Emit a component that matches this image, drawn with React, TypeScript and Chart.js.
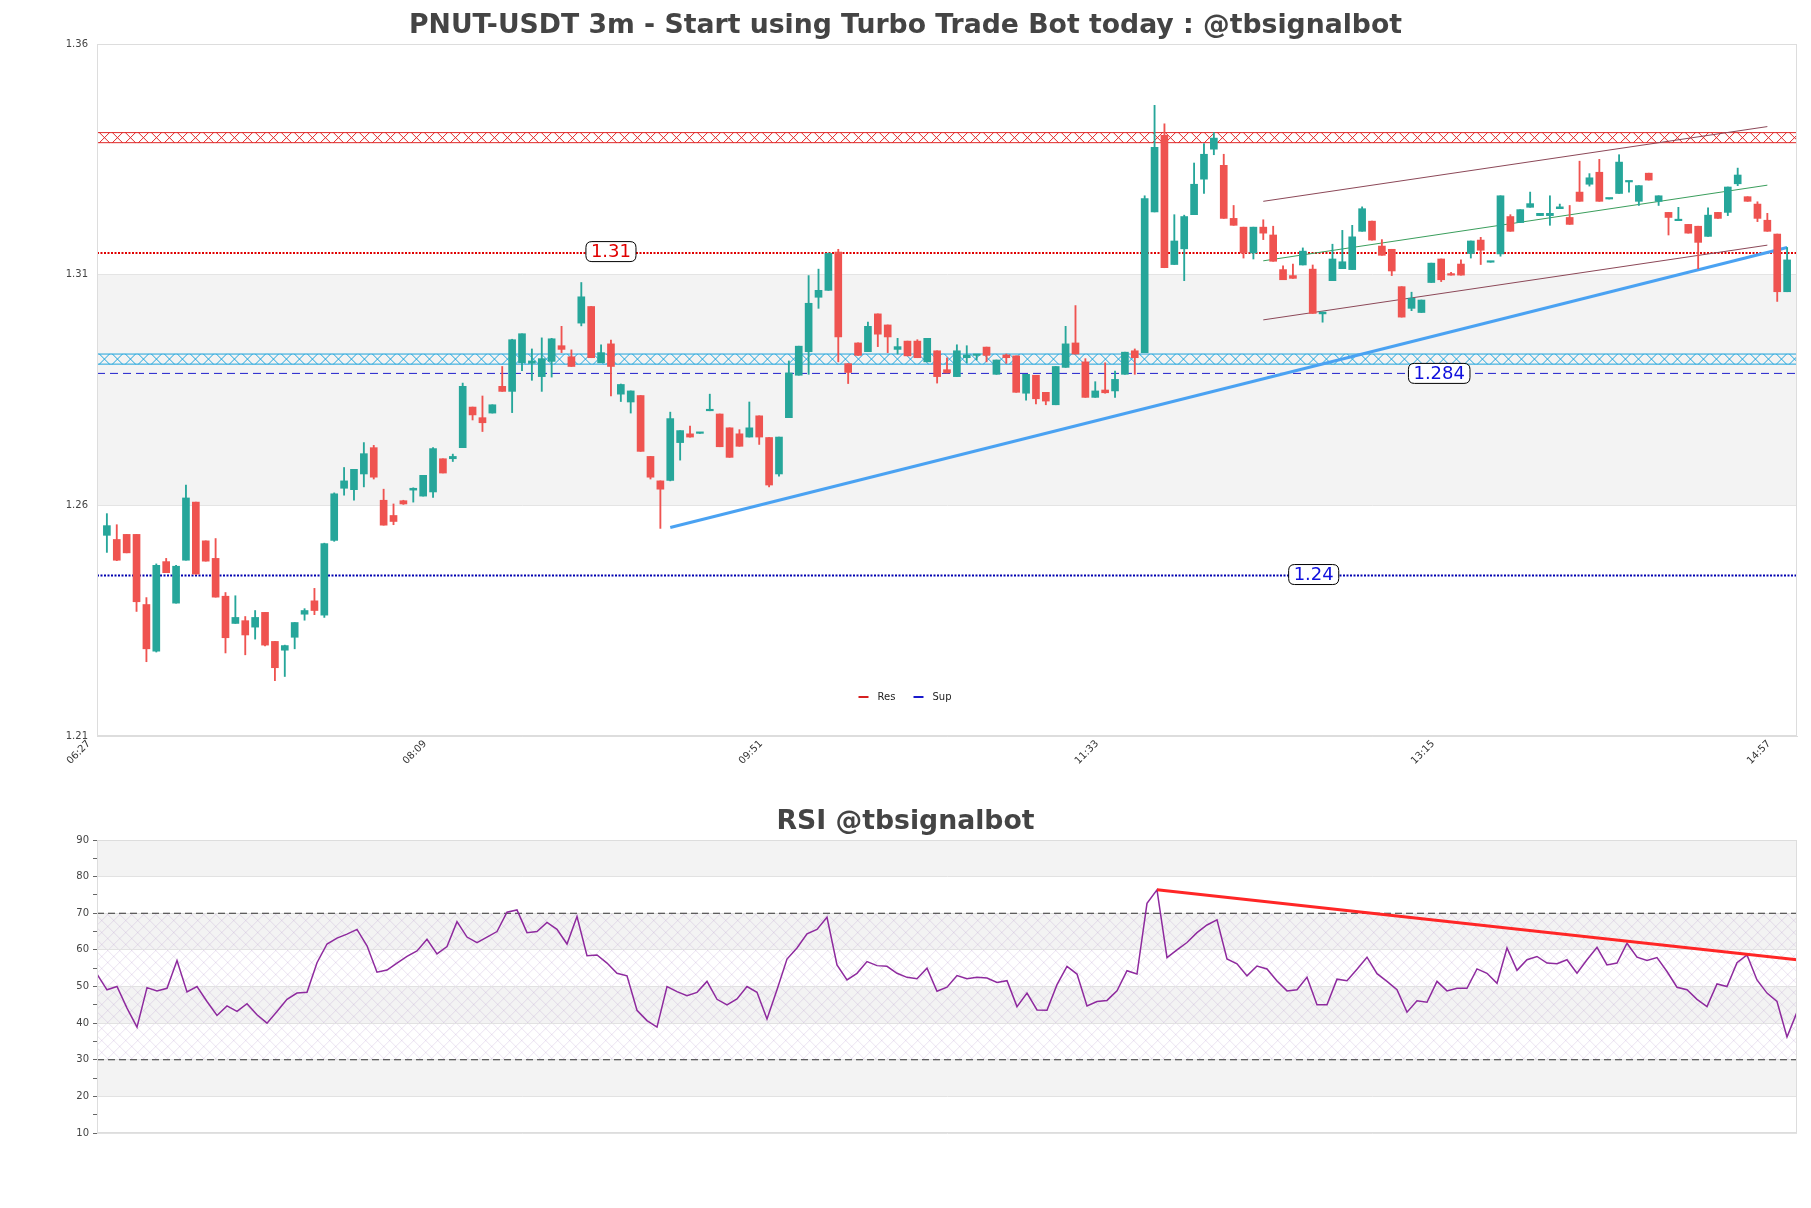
import React, { useEffect, useRef } from "react";
import { Chart, registerables } from "chart.js";

Chart.register(...registerables);
Chart.defaults.font.family = "'DejaVu Sans', sans-serif";

// ---------------- DATA ----------------
const titleMain = "PNUT-USDT 3m - Start using Turbo Trade Bot today : @tbsignalbot";
const titleRsi = "RSI @tbsignalbot";

const xTickIndex = [-1, 33, 67, 101, 135, 169];
const xTickLabels = ["06:27", "08:09", "09:51", "11:33", "13:15", "14:57"];
const priceTicks = [1.21, 1.26, 1.31, 1.36];
const rsiTicks = [10, 15, 20, 25, 30, 35, 40, 45, 50, 55, 60, 65, 70, 75, 80, 85, 90];

const opens = [
  1.2535, 1.2526, 1.2537, 1.2537, 1.2385, 1.2284, 1.2478, 1.2388, 1.2481, 1.2607,
  1.2523, 1.2485, 1.2403, 1.2344, 1.2350, 1.2336, 1.2368, 1.2305, 1.2286, 1.2314,
  1.2364, 1.2393, 1.2362, 1.2524, 1.2637, 1.2634, 1.2668, 1.2725, 1.2611, 1.2578,
  1.2610, 1.2633, 1.2620, 1.2629, 1.2701, 1.2701, 1.2725, 1.2813, 1.2790, 1.2800,
  1.2858, 1.2847, 1.2909, 1.2908, 1.2879, 1.2912, 1.2946, 1.2922, 1.2995, 1.3031,
  1.2909, 1.2950, 1.2841, 1.2824, 1.2838, 1.2706, 1.2653, 1.2654, 1.2736, 1.2755,
  1.2756, 1.2805, 1.2798, 1.2768, 1.2755, 1.2748, 1.2794, 1.2747, 1.2668, 1.2790,
  1.2882, 1.2933, 1.3051, 1.3066, 1.3149, 1.2907, 1.2952, 1.2933, 1.3015, 1.2991,
  1.2938, 1.2956, 1.2956, 1.2911, 1.2935, 1.2894, 1.2879, 1.2920, 1.2925, 1.2943,
  1.2884, 1.2926, 1.2924, 1.2843, 1.2882, 1.2845, 1.2818, 1.2899, 1.2952, 1.2911,
  1.2834, 1.2850, 1.2848, 1.2884, 1.2935, 1.2931, 1.3236, 1.3402, 1.3122, 1.3156,
  1.3230, 1.3307, 1.3372, 1.3337, 1.3222, 1.3203, 1.3147, 1.3203, 1.3186, 1.3111,
  1.3098, 1.3121, 1.3112, 1.3015, 1.3087, 1.3113, 1.3111, 1.3194, 1.3216, 1.3162,
  1.3155, 1.3074, 1.3027, 1.3018, 1.3083, 1.3134, 1.3101, 1.3123, 1.3146, 1.3175,
  1.3127, 1.3145, 1.3226, 1.3213, 1.3246, 1.3228, 1.3228, 1.3243, 1.3224, 1.3279,
  1.3296, 1.3322, 1.3264, 1.3276, 1.3301, 1.3259, 1.3320, 1.3259, 1.3235, 1.3217,
  1.3209, 1.3205, 1.3183, 1.3235, 1.3235, 1.3297, 1.3269, 1.3253, 1.3218, 1.3188,
  1.3063,
];
const highs = [
  1.2582, 1.2558, 1.2537, 1.2537, 1.2400, 1.2473, 1.2485, 1.2470, 1.2644, 1.2607,
  1.2523, 1.2528, 1.2411, 1.2404, 1.2359, 1.2372, 1.2368, 1.2305, 1.2297, 1.2346,
  1.2376, 1.2420, 1.2518, 1.2627, 1.2682, 1.2678, 1.2736, 1.2730, 1.2635, 1.2603,
  1.2611, 1.2638, 1.2665, 1.2725, 1.2701, 1.2711, 1.2865, 1.2813, 1.2837, 1.2818,
  1.2901, 1.2960, 1.2972, 1.2939, 1.2963, 1.2962, 1.2988, 1.2937, 1.3083, 1.3031,
  1.2948, 1.2958, 1.2863, 1.2848, 1.2838, 1.2706, 1.2653, 1.2802, 1.2762, 1.2772,
  1.2757, 1.2841, 1.2798, 1.2768, 1.2764, 1.2824, 1.2794, 1.2747, 1.2748, 1.2913,
  1.2945, 1.3098, 1.3112, 1.3147, 1.3155, 1.2907, 1.2952, 1.2997, 1.3015, 1.2991,
  1.2962, 1.2956, 1.2959, 1.2962, 1.2935, 1.2920, 1.2948, 1.2946, 1.2926, 1.2943,
  1.2915, 1.2928, 1.2924, 1.2884, 1.2882, 1.2845, 1.2901, 1.2988, 1.3033, 1.2918,
  1.2868, 1.2909, 1.2891, 1.2932, 1.2939, 1.3271, 1.3467, 1.3427, 1.3230, 1.3229,
  1.3342, 1.3384, 1.3408, 1.3361, 1.3250, 1.3203, 1.3203, 1.3219, 1.3205, 1.3119,
  1.3123, 1.3158, 1.3121, 1.3019, 1.3166, 1.3196, 1.3207, 1.3247, 1.3216, 1.3176,
  1.3155, 1.3074, 1.3062, 1.3045, 1.3125, 1.3134, 1.3105, 1.3132, 1.3173, 1.3181,
  1.3128, 1.3271, 1.3230, 1.3241, 1.3279, 1.3233, 1.3271, 1.3253, 1.3250, 1.3346,
  1.3319, 1.3350, 1.3265, 1.3360, 1.3302, 1.3293, 1.3320, 1.3271, 1.3235, 1.3246,
  1.3209, 1.3205, 1.3245, 1.3235, 1.3290, 1.3331, 1.3269, 1.3258, 1.3233, 1.3188,
  1.3159,
];
const lows = [
  1.2498, 1.2480, 1.2497, 1.2370, 1.2261, 1.2282, 1.2454, 1.2388, 1.2481, 1.2451,
  1.2479, 1.2401, 1.2280, 1.2344, 1.2276, 1.2310, 1.2295, 1.2220, 1.2229, 1.2289,
  1.2351, 1.2363, 1.2357, 1.2522, 1.2622, 1.2611, 1.2640, 1.2657, 1.2557, 1.2558,
  1.2602, 1.2607, 1.2620, 1.2617, 1.2670, 1.2695, 1.2725, 1.2785, 1.2760, 1.2800,
  1.2847, 1.2801, 1.2892, 1.2871, 1.2847, 1.2878, 1.2931, 1.2901, 1.2989, 1.2920,
  1.2909, 1.2837, 1.2825, 1.2800, 1.2717, 1.2657, 1.2550, 1.2653, 1.2698, 1.2748,
  1.2756, 1.2805, 1.2727, 1.2704, 1.2728, 1.2748, 1.2732, 1.2640, 1.2663, 1.2790,
  1.2882, 1.2884, 1.3027, 1.3066, 1.2911, 1.2864, 1.2925, 1.2933, 1.2944, 1.2931,
  1.2928, 1.2924, 1.2920, 1.2911, 1.2865, 1.2887, 1.2879, 1.2909, 1.2915, 1.2911,
  1.2884, 1.2908, 1.2845, 1.2828, 1.2820, 1.2818, 1.2818, 1.2899, 1.2928, 1.2834,
  1.2834, 1.2843, 1.2834, 1.2884, 1.2884, 1.2931, 1.3236, 1.3115, 1.3122, 1.3087,
  1.3230, 1.3276, 1.3360, 1.3222, 1.3207, 1.3136, 1.3134, 1.3176, 1.3129, 1.3089,
  1.3092, 1.3121, 1.3016, 1.2997, 1.3087, 1.3113, 1.3111, 1.3194, 1.3175, 1.3142,
  1.3098, 1.3008, 1.3022, 1.3018, 1.3083, 1.3085, 1.3099, 1.3099, 1.3136, 1.3122,
  1.3127, 1.3140, 1.3194, 1.3213, 1.3246, 1.3228, 1.3207, 1.3243, 1.3209, 1.3259,
  1.3292, 1.3259, 1.3264, 1.3276, 1.3279, 1.3250, 1.3305, 1.3250, 1.3186, 1.3217,
  1.3190, 1.3113, 1.3183, 1.3222, 1.3228, 1.3293, 1.3259, 1.3215, 1.3194, 1.3042,
  1.3063,
];
const closes = [
  1.2556, 1.2481, 1.2497, 1.2391, 1.2289, 1.2470, 1.2454, 1.2468, 1.2616, 1.2451,
  1.2479, 1.2401, 1.2313, 1.2357, 1.2319, 1.2357, 1.2297, 1.2248, 1.2296, 1.2346,
  1.2372, 1.2372, 1.2517, 1.2625, 1.2653, 1.2678, 1.2712, 1.2661, 1.2557, 1.2565,
  1.2603, 1.2637, 1.2665, 1.2723, 1.2670, 1.2706, 1.2858, 1.2796, 1.2779, 1.2818,
  1.2847, 1.2959, 1.2972, 1.2913, 1.2918, 1.2961, 1.2938, 1.2901, 1.3052, 1.2920,
  1.2931, 1.2901, 1.2862, 1.2848, 1.2717, 1.2661, 1.2635, 1.2788, 1.2762, 1.2748,
  1.2757, 1.2806, 1.2727, 1.2704, 1.2728, 1.2768, 1.2748, 1.2644, 1.2748, 1.2887,
  1.2945, 1.3038, 1.3066, 1.3146, 1.2965, 1.2888, 1.2925, 1.2988, 1.2971, 1.2965,
  1.2944, 1.2924, 1.2920, 1.2962, 1.2879, 1.2887, 1.2935, 1.2926, 1.2926, 1.2925,
  1.2915, 1.2920, 1.2845, 1.2884, 1.2831, 1.2826, 1.2901, 1.2950, 1.2928, 1.2834,
  1.2848, 1.2844, 1.2873, 1.2932, 1.2920, 1.3265, 1.3376, 1.3115, 1.3173, 1.3226,
  1.3296, 1.3361, 1.3396, 1.3222, 1.3207, 1.3147, 1.3203, 1.3190, 1.3129, 1.3089,
  1.3092, 1.3151, 1.3016, 1.3019, 1.3134, 1.3128, 1.3182, 1.3243, 1.3175, 1.3142,
  1.3108, 1.3008, 1.3049, 1.3045, 1.3125, 1.3089, 1.3099, 1.3099, 1.3173, 1.3153,
  1.3128, 1.3271, 1.3194, 1.3241, 1.3254, 1.3233, 1.3233, 1.3247, 1.3209, 1.3259,
  1.3310, 1.3259, 1.3265, 1.3344, 1.3302, 1.3293, 1.3305, 1.3271, 1.3224, 1.3218,
  1.3190, 1.3170, 1.3229, 1.3222, 1.3290, 1.3316, 1.3259, 1.3222, 1.3194, 1.3063,
  1.3132,
];

const rsiValues = [
  53.4, 49.1, 50.0, 44.1, 38.9, 49.7, 48.8, 49.5, 57.1, 48.5,
  50.0, 45.9, 42.1, 44.7, 43.2, 45.3, 42.3, 40.0, 43.2, 46.5,
  48.2, 48.4, 56.5, 61.6, 63.2, 64.3, 65.6, 61.1, 53.9, 54.5,
  56.4, 58.2, 59.7, 62.9, 58.9, 60.9, 67.7, 63.5, 62.0, 63.5,
  65.0, 70.3, 70.9, 64.7, 65.0, 67.5, 65.6, 61.6, 69.1, 58.4,
  58.6, 56.4, 53.6, 52.9, 43.5, 40.7, 38.9, 50.0, 48.6, 47.5,
  48.4, 51.4, 46.5, 45.0, 46.6, 50.0, 48.4, 41.1, 49.1, 57.5,
  60.5, 64.4, 65.6, 68.9, 55.9, 51.8, 53.6, 56.8, 55.7, 55.5,
  53.6, 52.5, 52.1, 55.0, 48.7, 49.8, 53.0, 52.1, 52.5, 52.3,
  51.1, 51.6, 44.5, 48.2, 43.6, 43.5, 50.5, 55.5, 53.4, 44.7,
  45.9, 46.2, 48.8, 54.3, 53.4, 72.7, 76.4, 57.9, 60.0, 62.0,
  64.7, 66.8, 68.2, 57.5, 56.2, 52.9, 55.6, 54.8, 51.5, 48.8,
  49.1, 52.5, 45.0, 45.0, 52.0, 51.6, 54.7, 58.0, 53.5, 51.4,
  49.1, 43.0, 46.1, 45.7, 51.4, 48.8, 49.5, 49.5, 54.8, 53.6,
  50.9, 60.5, 54.4, 57.3, 58.2, 56.4, 56.2, 57.3, 53.6, 57.3,
  60.7, 55.9, 56.4, 61.8, 58.0, 57.1, 57.9, 54.1, 49.8, 49.1,
  46.5, 44.5, 50.7, 50.0, 56.5, 58.6, 51.8, 48.2, 45.9, 36.2,
  43.0,
];

// levels and zones (price)
const resLevel = [1.3147];
const supDashedLevel = [1.2886];
const supDottedLevel = [1.2448];
const resZone = [1.3385, 1.3409];
const supZone = [1.2905, 1.2929];
const neutralBand = [1.26, 1.31];
// trend lines [index, price]
const priceTrend = [[57, 1.2552], [170, 1.3159]];
const channelUpper = [[117, 1.3259], [168, 1.3421]];
const channelMid = [[117, 1.3130], [168, 1.3294]];
const channelLower = [[117, 1.3002], [168, 1.3164]];
// tags [index, price, text]
const tagRes = [51, 1.3150, "1.31"];
const tagSupDashed = [134.8, 1.2886, "1.284"];
const tagSupDotted = [122.1, 1.2450, "1.24"];
// RSI
const rsiTrend = [[106, 76.4], [170, 57.3]];
const rsiLevels = [70, 30];
const rsiGrayBands = [[80, 90], [60, 70], [40, 50], [20, 30]];
const rsiHatchZone = [30, 70];

// ---------------- STYLE ----------------
const GREEN = "#26a69a";
const RED = "#ef5350";
const W = 1811;
const MAIN_H = 790;
const RSI_TOP = 790;
const RSI_H = 418;
const SIDE_PAD = 14;
const AXIS_W = 97 - SIDE_PAD;
const TITLE_SIZE = 26.7;

function drawXBand(ctx: CanvasRenderingContext2D, left: number, right: number, yTop: number, yBot: number, color: string) {
  const h = yBot - yTop;
  ctx.save();
  ctx.beginPath();
  ctx.rect(left, yTop, right - left, h);
  ctx.clip();
  ctx.strokeStyle = color;
  ctx.lineWidth = 1;
  ctx.beginPath();
  const step = 13;
  for (let x0 = left - h; x0 < right + h; x0 += step) {
    ctx.moveTo(x0, yBot);
    ctx.lineTo(x0 + h, yTop);
    ctx.moveTo(x0, yTop);
    ctx.lineTo(x0 + h, yBot);
  }
  ctx.stroke();
  ctx.restore();
  ctx.save();
  ctx.strokeStyle = color;
  ctx.lineWidth = 1;
  ctx.beginPath();
  ctx.moveTo(left, yTop + 0.5);
  ctx.lineTo(right, yTop + 0.5);
  ctx.moveTo(left, yBot - 0.5);
  ctx.lineTo(right, yBot - 0.5);
  ctx.stroke();
  ctx.restore();
}

function drawTag(ctx: CanvasRenderingContext2D, px: number, py: number, text: string, color: string) {
  ctx.save();
  ctx.font = "18px 'DejaVu Sans'";
  const tw = ctx.measureText(text).width;
  const w = tw + 10;
  const h = 20;
  const x = px - w / 2;
  const y = py - h / 2;
  const r = 6;
  ctx.beginPath();
  ctx.moveTo(x + r, y);
  ctx.lineTo(x + w - r, y);
  ctx.quadraticCurveTo(x + w, y, x + w, y + r);
  ctx.lineTo(x + w, y + h - r);
  ctx.quadraticCurveTo(x + w, y + h, x + w - r, y + h);
  ctx.lineTo(x + r, y + h);
  ctx.quadraticCurveTo(x, y + h, x, y + h - r);
  ctx.lineTo(x, y + r);
  ctx.quadraticCurveTo(x, y, x + r, y);
  ctx.closePath();
  ctx.fillStyle = "#ffffff";
  ctx.fill();
  ctx.strokeStyle = "#000000";
  ctx.lineWidth = 1;
  ctx.stroke();
  ctx.fillStyle = color;
  ctx.textAlign = "center";
  ctx.textBaseline = "middle";
  ctx.fillText(text, px, py + 1);
  ctx.restore();
}

const mainPlugin = {
  id: "mainDeco",
  beforeDraw(chart: any) {
    const { ctx, chartArea: a, scales } = chart;
    const y = scales.y;
    ctx.save();
    ctx.fillStyle = "#ffffff";
    ctx.fillRect(0, 0, chart.width, chart.height);
    const yt = y.getPixelForValue(neutralBand[1]);
    const yb = y.getPixelForValue(neutralBand[0]);
    ctx.fillStyle = "#f3f3f3";
    ctx.fillRect(a.left, yt, a.right - a.left, yb - yt);
    ctx.restore();
  },
  beforeDatasetsDraw(chart: any) {
    const { ctx, chartArea: a, scales } = chart;
    const y = scales.y;
    drawXBand(ctx, a.left, a.right, y.getPixelForValue(resZone[1]), y.getPixelForValue(resZone[0]), "#e02828");
    drawXBand(ctx, a.left, a.right, y.getPixelForValue(supZone[1]), y.getPixelForValue(supZone[0]), "#1ea4dc");
  },
  afterDatasetsDraw(chart: any) {
    const { ctx, chartArea: a, scales } = chart;
    const x = scales.x;
    const y = scales.y;
    drawTag(ctx, x.getPixelForValue(tagRes[0] as number), y.getPixelForValue(tagRes[1] as number), tagRes[2] as string, "#e00000");
    drawTag(ctx, x.getPixelForValue(tagSupDashed[0] as number), y.getPixelForValue(tagSupDashed[1] as number), tagSupDashed[2] as string, "#1010dd");
    drawTag(ctx, x.getPixelForValue(tagSupDotted[0] as number), y.getPixelForValue(tagSupDotted[1] as number), tagSupDotted[2] as string, "#1010dd");
    // frame
    ctx.save();
    ctx.strokeStyle = "#dddddd";
    ctx.lineWidth = 1;
    ctx.strokeRect(a.left + 0.5, a.top + 0.5, a.right - a.left - 1, a.bottom - a.top - 1);
    // legend
    const cx = chart.width / 2;
    const ly = a.bottom - 39;
    ctx.lineWidth = 2;
    ctx.strokeStyle = "#d62020";
    ctx.beginPath();
    ctx.moveTo(cx - 47, ly);
    ctx.lineTo(cx - 37, ly);
    ctx.stroke();
    ctx.strokeStyle = "#1a1acc";
    ctx.beginPath();
    ctx.moveTo(cx + 8, ly);
    ctx.lineTo(cx + 18, ly);
    ctx.stroke();
    ctx.fillStyle = "#222222";
    ctx.font = "10px 'DejaVu Sans'";
    ctx.textAlign = "left";
    ctx.textBaseline = "middle";
    ctx.fillText("Res", cx - 28, ly);
    ctx.fillText("Sup", cx + 27, ly);
    ctx.restore();
  },
};

const rsiPlugin = {
  id: "rsiDeco",
  beforeDraw(chart: any) {
    const { ctx, chartArea: a, scales } = chart;
    const y = scales.y;
    ctx.save();
    ctx.fillStyle = "#ffffff";
    ctx.fillRect(0, 0, chart.width, chart.height);
    ctx.fillStyle = "#f3f3f3";
    for (const [lo, hi] of rsiGrayBands) {
      const t = y.getPixelForValue(hi);
      const b = y.getPixelForValue(lo);
      ctx.fillRect(a.left, t, a.right - a.left, b - t);
    }
    const ht = y.getPixelForValue(rsiHatchZone[1]);
    const hb = y.getPixelForValue(rsiHatchZone[0]);
    ctx.beginPath();
    ctx.rect(a.left, ht, a.right - a.left, hb - ht);
    ctx.clip();
    ctx.strokeStyle = "rgba(185,150,205,0.45)";
    ctx.lineWidth = 0.6;
    ctx.beginPath();
    const H = hb - ht;
    const s = 12;
    for (let x0 = a.left - H; x0 < a.right + H; x0 += s) {
      ctx.moveTo(x0, hb);
      ctx.lineTo(x0 + H, ht);
      ctx.moveTo(x0, ht);
      ctx.lineTo(x0 + H, hb);
    }
    ctx.stroke();
    ctx.restore();
  },
  afterDatasetsDraw(chart: any) {
    const { ctx, chartArea: a } = chart;
    ctx.save();
    ctx.strokeStyle = "#dddddd";
    ctx.lineWidth = 1;
    ctx.strokeRect(a.left + 0.5, a.top + 0.5, a.right - a.left - 1, a.bottom - a.top - 1);
    ctx.restore();
  },
};

function segment(points: number[][]) {
  return points.map(([x, y]) => ({ x, y }));
}

function mainConfig(): any {
  const bodies = opens.map((o, i) => ({ x: i, y: [o, closes[i]] }));
  const wicks = opens.map((o, i) => ({
    x: i,
    y: [Math.min(lows[i], o, closes[i]), Math.max(highs[i], o, closes[i])],
  }));
  const colors = opens.map((o, i) => (closes[i] >= o ? GREEN : RED));
  const xMin = -1;
  const xMax = 171;
  const line = (label: string, pts: any[], color: string, width: number, dash: number[], order: number) => ({
    type: "line",
    label,
    data: pts,
    borderColor: color,
    backgroundColor: color,
    borderWidth: width,
    borderDash: dash,
    pointRadius: 0,
    fill: false,
    tension: 0,
    order,
  });
  return {
    type: "bar",
    data: {
      datasets: [
        { type: "bar", label: "body", data: bodies, backgroundColor: colors, borderWidth: 0, barThickness: 7, grouped: false, minBarLength: 1.5, order: 0 },
        { type: "bar", label: "wick", data: wicks, backgroundColor: colors, borderWidth: 0, barThickness: 1.2, grouped: false, order: 1 },
        line("Res", [{ x: xMin, y: resLevel[0] }, { x: xMax, y: resLevel[0] }], "#e00000", 2, [2, 1.5], 3),
        line("Sup", [{ x: xMin, y: supDottedLevel[0] }, { x: xMax, y: supDottedLevel[0] }], "#0000b0", 2, [2, 1.5], 3),
        line("Sup level", [{ x: xMin, y: supDashedLevel[0] }, { x: xMax, y: supDashedLevel[0] }], "#2020cc", 1, [8, 5], 3),
        line("Trend", segment(priceTrend), "#4aa2f2", 3, [], 2),
        line("Channel upper", segment(channelUpper), "#8c4858", 1, [], 2),
        line("Channel mid", segment(channelMid), "#3a9e5c", 1, [], 2),
        line("Channel lower", segment(channelLower), "#8c4858", 1, [], 2),
      ],
    },
    options: {
      responsive: false,
      animation: false,
      devicePixelRatio: 1,
      layout: { padding: { left: SIDE_PAD, right: SIDE_PAD, top: 0, bottom: 0 } },
      plugins: {
        legend: { display: false },
        tooltip: { enabled: false },
        title: {
          display: true,
          text: titleMain,
          color: "#444444",
          font: { size: TITLE_SIZE, weight: "bold", family: "'DejaVu Sans', sans-serif" },
          padding: { top: 10, bottom: 44 - 10 - TITLE_SIZE * 1.2 },
        },
      },
      scales: {
        x: {
          type: "linear",
          min: xMin,
          max: xMax,
          offset: false,
          grid: { display: false, drawTicks: false },
          border: { display: true, color: "#dddddd" },
          afterBuildTicks: (s: any) => {
            s.ticks = xTickIndex.map((v) => ({ value: v }));
          },
          afterFit: (s: any) => {
            s.height = MAIN_H - 736;
          },
          ticks: {
            autoSkip: false,
            minRotation: 45,
            maxRotation: 45,
            padding: 2,
            labelOffset: -8,
            color: "#333333",
            font: { size: 10 },
            callback: (v: any) => {
              const k = xTickIndex.indexOf(Number(v));
              return k >= 0 ? xTickLabels[k] : "";
            },
          },
        },
        y: {
          type: "linear",
          min: priceTicks[0],
          max: priceTicks[priceTicks.length - 1],
          grid: { color: "#e4e4e4", drawTicks: false },
          border: { display: true, color: "#dddddd" },
          afterBuildTicks: (s: any) => {
            s.ticks = priceTicks.map((v) => ({ value: v }));
          },
          afterFit: (s: any) => {
            s.width = AXIS_W;
          },
          ticks: {
            padding: 9,
            color: "#444444",
            font: { size: 10 },
            callback: (v: any) => Number(v).toFixed(2),
          },
        },
      },
    },
    plugins: [mainPlugin],
  };
}

function rsiConfig(): any {
  return {
    type: "line",
    data: {
      datasets: [
        {
          label: "RSI",
          data: rsiValues.map((v, i) => ({ x: i, y: v })),
          borderColor: "#8e2a9e",
          borderWidth: 1.5,
          pointRadius: 0,
          tension: 0,
          fill: false,
          order: 1,
        },
        {
          label: "RSI trend",
          data: segment(rsiTrend),
          borderColor: "#ff2626",
          borderWidth: 3,
          pointRadius: 0,
          fill: false,
          order: 0,
        },
        ...rsiLevels.map((lv) => ({
          label: "level " + lv,
          data: [{ x: 0, y: lv }, { x: rsiValues.length - 1, y: lv }],
          borderColor: "#333333",
          borderWidth: 1.2,
          borderDash: [7, 4],
          pointRadius: 0,
          fill: false,
          order: 2,
        })),
      ],
    },
    options: {
      responsive: false,
      animation: false,
      devicePixelRatio: 1,
      layout: { padding: { left: SIDE_PAD, right: SIDE_PAD, top: 0, bottom: RSI_H - 343 } },
      plugins: {
        legend: { display: false },
        tooltip: { enabled: false },
        title: {
          display: true,
          text: titleRsi,
          color: "#444444",
          font: { size: TITLE_SIZE, weight: "bold", family: "'DejaVu Sans', sans-serif" },
          padding: { top: 16, bottom: 50 - 16 - TITLE_SIZE * 1.2 },
        },
      },
      scales: {
        x: {
          type: "linear",
          min: 0,
          max: rsiValues.length - 1,
          display: false,
        },
        y: {
          type: "linear",
          min: 10,
          max: 90,
          border: { display: true, color: "#dddddd" },
          grid: {
            color: (c: any) => (c.tick && c.tick.value % 10 === 0 ? "#e2e2e2" : "rgba(0,0,0,0)"),
            tickColor: "#666666",
            tickLength: 4,
            drawTicks: true,
          },
          afterBuildTicks: (s: any) => {
            s.ticks = rsiTicks.map((v) => ({ value: v }));
          },
          afterFit: (s: any) => {
            s.width = AXIS_W;
          },
          ticks: {
            autoSkip: false,
            padding: 4,
            color: "#444444",
            font: { size: 10 },
            callback: (v: any) => (Number(v) % 10 === 0 ? String(v) : ""),
          },
        },
      },
    },
    plugins: [rsiPlugin],
  };
}

export default function App() {
  const mainRef = useRef<HTMLCanvasElement>(null);
  const rsiRef = useRef<HTMLCanvasElement>(null);
  useEffect(() => {
    const c1 = new Chart(mainRef.current as HTMLCanvasElement, mainConfig());
    const c2 = new Chart(rsiRef.current as HTMLCanvasElement, rsiConfig());
    return () => {
      c1.destroy();
      c2.destroy();
    };
  }, []);
  return (
    <div style={{ position: "absolute", left: 0, top: 0, width: W, height: 1208, background: "#ffffff", overflow: "hidden" }}>
      <canvas ref={mainRef} width={W} height={MAIN_H} style={{ position: "absolute", left: 0, top: 0, width: W, height: MAIN_H }} />
      <canvas ref={rsiRef} width={W} height={RSI_H} style={{ position: "absolute", left: 0, top: RSI_TOP, width: W, height: RSI_H }} />
    </div>
  );
}
